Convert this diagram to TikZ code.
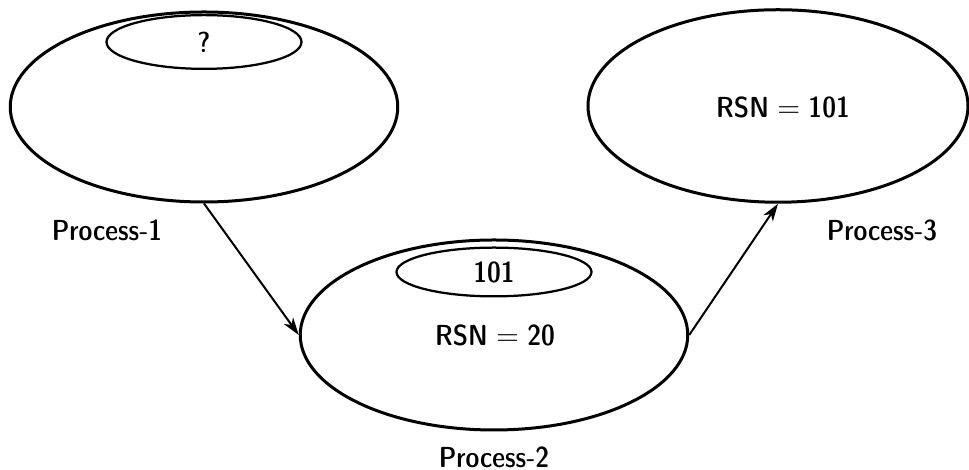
\documentclass[tikz,border=0pt]{standalone}
\usepackage{tikz}
\usetikzlibrary{shapes.geometric,arrows.meta}

\tikzset{
  proc/.style={ellipse, draw, line width=1.2pt, inner sep=0pt,
               minimum width=155pt, minimum height=76pt},
  slot/.style={ellipse, draw, line width=0.9pt, inner sep=0pt,
               minimum width=78pt, minimum height=20pt},
  lbl/.style={font=\fontsize{11.6}{13}\fontseries{sbc}\sffamily},
  arr/.style={-{Stealth[length=7pt,width=4.5pt,inset=2pt]}, line width=0.8pt}
}

\begin{document}
\begin{tikzpicture}[x=0.4pt,y=-0.4pt]

      \useasboundingbox (0,0) rectangle (969,470);

      % Processes
      \node[proc] (p1) at (204,107) {};
      \node[proc] (p2) at (494,335) {};
      \node[proc, minimum width=152pt, minimum height=77pt] (p3) at (778,106) {};
    %
      %% Message slots
      \node[slot, lbl, minimum height=21.5pt] (m1) at (204,42) {?};
      \node[slot, lbl, minimum height=19.5pt] (m2) at (494,272) {101};
    %
      %% Counters
      \node[lbl] (r2) at (495,335) {RSN${}={}$20};
      \node[lbl] (r3) at (783,107) {RSN${}={}$101};

      % Labels
      \node[lbl] (l1) at (107,230) {Process-1};
      \node[lbl] (l2) at (494,457) {Process-2};
      \node[lbl] (l3) at (882,230) {Process-3};

      %% Arrows
      \draw[arr] (p1.south) -- (p2.west);
      \draw[arr] (p2.east) -- (p3.south);

\end{tikzpicture}
\end{document}
